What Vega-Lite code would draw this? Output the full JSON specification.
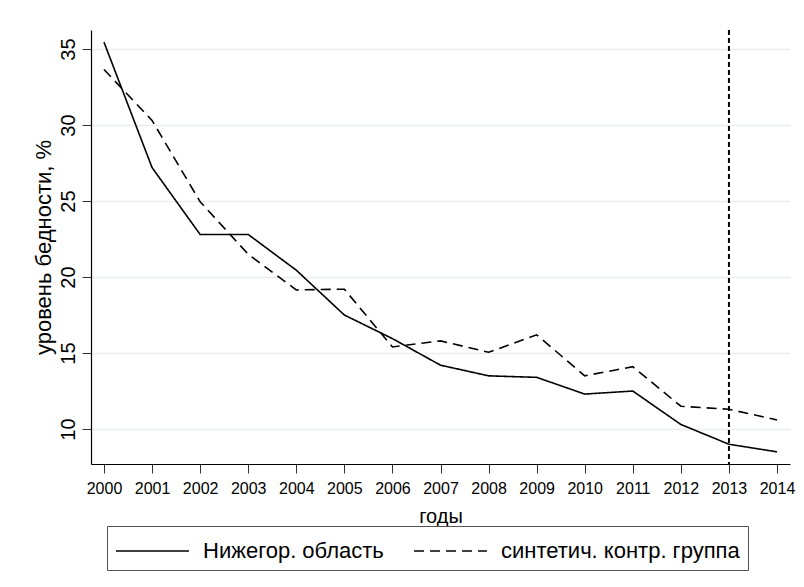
{
  "$schema": "https://vega.github.io/schema/vega-lite/v6.json",
  "width": 699,
  "height": 434,
  "autosize": {"type": "none"},
  "padding": {"left": 91, "top": 30, "right": 14, "bottom": 123},
  "background": "white",
  "config": {
    "font": "Liberation Sans",
    "view": {"stroke": null},
    "axis": {
      "domainColor": "black",
      "domainWidth": 1.2,
      "tickColor": "#333333",
      "tickWidth": 1,
      "tickSize": 9,
      "labelColor": "black",
      "titleColor": "black",
      "titleFontWeight": "normal"
    },
    "legend": {"labelFont": "Liberation Sans", "gridAlign": "none"}
  },
  "datasets": {
    "series": [
      {"series": "Нижегор. область", "year": 2000, "value": 35.45},
      {"series": "Нижегор. область", "year": 2001, "value": 27.2},
      {"series": "Нижегор. область", "year": 2002, "value": 22.8},
      {"series": "Нижегор. область", "year": 2003, "value": 22.8},
      {"series": "Нижегор. область", "year": 2004, "value": 20.45},
      {"series": "Нижегор. область", "year": 2005, "value": 17.5},
      {"series": "Нижегор. область", "year": 2006, "value": 15.95},
      {"series": "Нижегор. область", "year": 2007, "value": 14.2},
      {"series": "Нижегор. область", "year": 2008, "value": 13.5},
      {"series": "Нижегор. область", "year": 2009, "value": 13.4},
      {"series": "Нижегор. область", "year": 2010, "value": 12.3},
      {"series": "Нижегор. область", "year": 2011, "value": 12.5},
      {"series": "Нижегор. область", "year": 2012, "value": 10.3},
      {"series": "Нижегор. область", "year": 2013, "value": 9.0},
      {"series": "Нижегор. область", "year": 2014, "value": 8.5},
      {"series": "синтетич. контр. группа", "year": 2000, "value": 33.65},
      {"series": "синтетич. контр. группа", "year": 2001, "value": 30.3},
      {"series": "синтетич. контр. группа", "year": 2002, "value": 24.95},
      {"series": "синтетич. контр. группа", "year": 2003, "value": 21.5},
      {"series": "синтетич. контр. группа", "year": 2004, "value": 19.15},
      {"series": "синтетич. контр. группа", "year": 2005, "value": 19.2},
      {"series": "синтетич. контр. группа", "year": 2006, "value": 15.4},
      {"series": "синтетич. контр. группа", "year": 2007, "value": 15.8},
      {"series": "синтетич. контр. группа", "year": 2008, "value": 15.05},
      {"series": "синтетич. контр. группа", "year": 2009, "value": 16.2},
      {"series": "синтетич. контр. группа", "year": 2010, "value": 13.5},
      {"series": "синтетич. контр. группа", "year": 2011, "value": 14.1},
      {"series": "синтетич. контр. группа", "year": 2012, "value": 11.5},
      {"series": "синтетич. контр. группа", "year": 2013, "value": 11.3},
      {"series": "синтетич. контр. группа", "year": 2014, "value": 10.6}
    ]
  },
  "layer": [
    {
      "data": {"name": "series"},
      "mark": {"type": "line", "color": "black", "strokeWidth": 1.6},
      "encoding": {
        "x": {
          "field": "year",
          "type": "quantitative",
          "scale": {"domain": [1999.73, 2014.27], "nice": false, "zero": false},
          "axis": {
            "values": [2000, 2001, 2002, 2003, 2004, 2005, 2006, 2007, 2008, 2009, 2010, 2011, 2012, 2013, 2014],
            "format": "d",
            "labelFontSize": 16,
            "labelPadding": 7,
            "labelFlush": false,
            "labelOverlap": false,
            "title": "годы",
            "titleFontSize": 20,
            "titleFontWeight": "normal",
            "titlePadding": 10,
            "grid": false
          }
        },
        "y": {
          "field": "value",
          "type": "quantitative",
          "scale": {"domain": [7.7, 36.25], "nice": false, "zero": false},
          "axis": {
            "values": [10, 15, 20, 25, 30, 35],
            "labelAngle": -90,
            "labelAlign": "center",
            "labelBaseline": "alphabetic",
            "labelFontSize": 20,
            "labelPadding": 8,
            "title": "уровень бедности, %",
            "titleFontSize": 22,
            "titleFontWeight": "normal",
            "titlePadding": 3,
            "grid": true,
            "gridColor": "#e6eef1",
            "gridWidth": 1.5
          }
        },
        "strokeDash": {
          "field": "series",
          "type": "nominal",
          "scale": {
            "domain": ["Нижегор. область", "синтетич. контр. группа"],
            "range": [[1, 0], [10, 6]]
          },
          "legend": {
            "orient": "none",
            "legendX": 16,
            "legendY": 496,
            "direction": "horizontal",
            "title": null,
            "strokeColor": "#555555",
            "padding": 8,
            "labelFontSize": 22,
            "labelColor": "black",
            "labelLimit": 500,
            "symbolType": "M-1,0H3.56",
            "symbolSize": 1024,
            "symbolStrokeWidth": 1.6,
            "symbolStrokeColor": "black",
            "labelOffset": 54,
            "columnPadding": 26
          }
        }
      }
    },
    {
      "data": {"values": [{}]},
      "mark": {"type": "rule", "color": "black", "strokeWidth": 2, "strokeDash": [5, 3]},
      "encoding": {"x": {"datum": 2013}}
    }
  ]
}
